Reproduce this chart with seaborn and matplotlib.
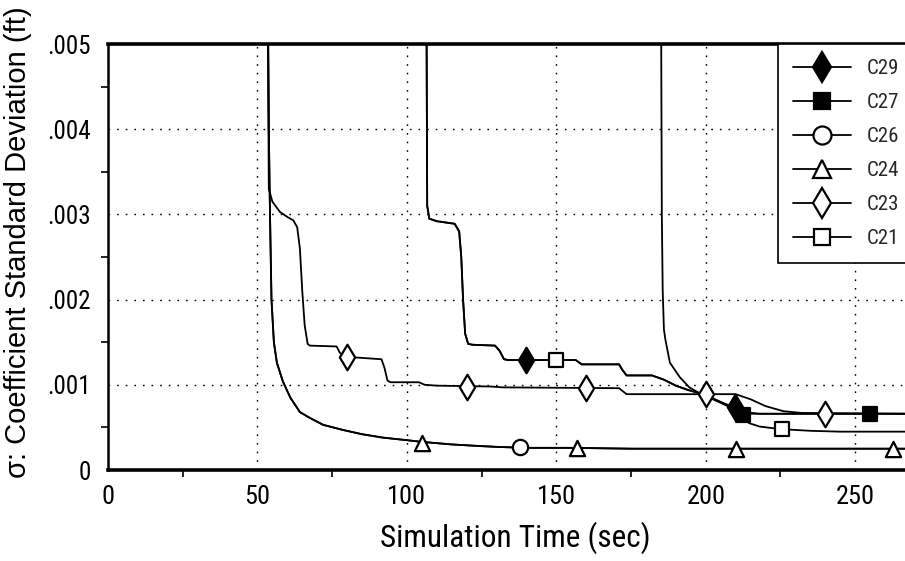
import numpy as np
import pandas as pd
import matplotlib
matplotlib.use("Agg")
import matplotlib.pyplot as plt
from matplotlib import font_manager
from matplotlib.lines import Line2D
from matplotlib.ticker import FixedLocator
import seaborn as sns

# ---------------- data ----------------
# lowest curve (C24 / C26 share it)
t_c24 = [53.4, 53.8, 54.2, 54.7, 55.5, 56.5, 58.5, 61.0, 64.2, 67.6, 72.0, 78.6, 85.0,
         92.0, 100.0, 105.0, 115.0, 125.0, 131.0, 140.0, 155.0, 175.0, 200.0, 230.0, 267.0]
v_c24 = [0.0060, 0.0040, 0.0030, 0.0020, 0.00150, 0.00126, 0.00104, 0.00085, 0.00068,
         0.00061, 0.00053, 0.00047, 0.00042, 0.00038, 0.00035, 0.00033, 0.00030, 0.00028,
         0.00027, 0.00026, 0.00026, 0.00025, 0.00025, 0.00025, 0.00025]
t_c26 = list(t_c24)
v_c26 = list(v_c24)

# middle curve with steps (C23)
t_c23 = [53.4, 53.8, 55.0, 57.5, 60.0, 62.0, 63.3, 64.2, 65.0, 65.8, 66.8, 67.5, 76.5,
         77.5, 79.0, 91.5, 92.5, 93.5, 94.5, 104.0, 106.0, 110.0, 128.0, 132.0, 171.0,
         173.5, 210.0, 215.0, 220.0, 226.0, 232.0, 267.0]
v_c23 = [0.0060, 0.0033, 0.00315, 0.00303, 0.00297, 0.00293, 0.00285, 0.0026, 0.0021,
         0.0017, 0.00148, 0.00146, 0.00145, 0.00138, 0.00133, 0.00130, 0.00120, 0.00105,
         0.00103, 0.00103, 0.00100, 0.00099, 0.00098, 0.00097, 0.00096, 0.00089, 0.00089,
         0.00083, 0.00075, 0.00069, 0.00067, 0.00066]

# upper curve starting ~106 s (C29 and C21 share it up to ~198 s)
t_c29 = [106.5, 106.8, 107.5, 110.0, 116.0, 117.5, 118.2, 118.8, 119.5, 120.5, 122.0,
         129.5, 131.0, 132.5, 134.0, 156.5, 158.5, 171.0, 172.0, 173.5, 182.0, 186.0,
         190.0, 194.0, 198.0, 203.0, 207.0, 210.0, 213.0, 218.0, 267.0]
v_c29 = [0.0060, 0.0031, 0.00295, 0.00292, 0.00289, 0.00280, 0.0025, 0.0020, 0.0016,
         0.00148, 0.00147, 0.00146, 0.00140, 0.00130, 0.00129, 0.00129, 0.00124, 0.00124,
         0.00118, 0.00111, 0.00111, 0.00106, 0.00099, 0.00094, 0.00090, 0.00083, 0.00077,
         0.00073, 0.00068, 0.00066, 0.00066]
t_c21 = [106.5, 106.8, 107.5, 110.0, 116.0, 117.5, 118.2, 118.8, 119.5, 120.5, 122.0,
         129.5, 131.0, 132.5, 134.0, 156.5, 158.5, 171.0, 172.0, 173.5, 182.0, 186.0,
         190.0, 194.0, 198.0, 203.0, 208.0, 212.0, 214.5, 218.0, 225.0, 235.0, 245.0, 267.0]
v_c21 = [0.0060, 0.0031, 0.00295, 0.00292, 0.00289, 0.00280, 0.0025, 0.0020, 0.0016,
         0.00148, 0.00147, 0.00146, 0.00140, 0.00130, 0.00129, 0.00129, 0.00124, 0.00124,
         0.00118, 0.00111, 0.00111, 0.00106, 0.00099, 0.00094, 0.00090, 0.00083, 0.00074,
         0.00064, 0.00055, 0.00051, 0.00048, 0.00046, 0.00045, 0.00045]

# late curve starting ~185 s (C27)
t_c27 = [185.0, 185.3, 185.6, 186.0, 186.5, 188.0, 191.3, 194.5, 198.0, 203.0, 208.0,
         212.0, 216.0, 267.0]
v_c27 = [0.0060, 0.0030, 0.0021, 0.00165, 0.00153, 0.00126, 0.00109, 0.00097, 0.00090,
         0.00082, 0.00074, 0.00066, 0.00066, 0.00066]

# marker positions
mk_t_c29 = [140.0, 209.7]
mk_v_c29 = [0.00129, 0.00074]
mk_t_c27 = [212.4, 255.0]
mk_v_c27 = [0.00065, 0.00066]
mk_t_c26 = [138.0]
mk_v_c26 = [0.00027]
mk_t_c24 = [105.0, 157.0, 210.0, 262.5]
mk_v_c24 = [0.00032, 0.00026, 0.00025, 0.00025]
mk_t_c23 = [80.0, 120.0, 160.0, 200.0, 240.0]
mk_v_c23 = [0.00133, 0.00098, 0.00096, 0.00089, 0.00066]
mk_t_c21 = [150.0, 225.4]
mk_v_c21 = [0.00129, 0.00048]

series_names = ["C29", "C27", "C26", "C24", "C23", "C21"]
x_ticks = [0, 50, 100, 150, 200, 250]
x_tick_labels = ["0", "50", "100", "150", "200", "250"]
y_ticks = [0.0, 0.001, 0.002, 0.003, 0.004, 0.005]
y_tick_labels = ["0", ".001", ".002", ".003", ".004", ".005"]
x_label = "Simulation Time (sec)"
y_label = "σ: Coefficient Standard Deviation (ft)"

# ---------------- styling ----------------
sns.set_theme(style="white")
avail = {f.name for f in font_manager.fontManager.ttflist}
narrow = "Liberation Sans"
for cand in ["Liberation Sans Narrow", "Roboto Condensed", "Open Sans Condensed",
             "DejaVu Sans Condensed"]:
    if cand in avail:
        narrow = cand
        break
plt.rcParams["font.family"] = [narrow, "DejaVu Sans"]

styles = {
    "C29": dict(marker="d", face="black", ms=13),
    "C27": dict(marker="s", face="black", ms=10),
    "C26": dict(marker="o", face="white", ms=11),
    "C24": dict(marker="^", face="white", ms=11),
    "C23": dict(marker="d", face="white", ms=13),
    "C21": dict(marker="s", face="white", ms=10),
}
curves = {
    "C29": (t_c29, v_c29, mk_t_c29, mk_v_c29),
    "C27": (t_c27, v_c27, mk_t_c27, mk_v_c27),
    "C26": (t_c26, v_c26, mk_t_c26, mk_v_c26),
    "C24": (t_c24, v_c24, mk_t_c24, mk_v_c24),
    "C23": (t_c23, v_c23, mk_t_c23, mk_v_c23),
    "C21": (t_c21, v_c21, mk_t_c21, mk_v_c21),
}

fig = plt.figure(figsize=(9.05, 5.61), dpi=100)
W, H = 905, 561
ax = fig.add_axes([108 / W, (H - 470) / H, (906 - 108) / W, (470 - 44) / H])

for name in series_names:
    t, v, mt, mv = curves[name]
    df = pd.DataFrame({"t": t, "v": v})
    sns.lineplot(data=df, x="t", y="v", ax=ax, color="black", linewidth=1.3,
                 estimator=None, sort=False, legend=False, zorder=3)
for name in series_names:
    t, v, mt, mv = curves[name]
    st = styles[name]
    mdf = pd.DataFrame({"t": mt, "v": mv})
    sns.scatterplot(data=mdf, x="t", y="v", ax=ax, marker=st["marker"],
                    s=st["ms"] ** 2, color=st["face"], edgecolor="black",
                    linewidth=1.6, legend=False, zorder=5, clip_on=False)

ax.set_xlim(0, 267)
ax.set_ylim(0, 0.005)
ax.set_xticks(x_ticks)
ax.set_xticklabels(x_tick_labels)
ax.set_yticks(y_ticks)
ax.set_yticklabels(y_tick_labels)
ax.xaxis.set_minor_locator(FixedLocator([25, 75, 125, 175, 225]))
ax.yaxis.set_minor_locator(FixedLocator([0.0005, 0.0015, 0.0025, 0.0035, 0.0045]))
ax.tick_params(axis="x", which="major", length=0, pad=11, labelsize=19, colors="black")
ax.tick_params(axis="y", which="major", length=0, pad=12, labelsize=18, colors="black")
ax.tick_params(axis="both", which="minor", length=5, width=1.2, direction="out",
               color="black", bottom=True, left=True)
ax.set_xlabel(x_label, fontsize=22.5, labelpad=9, color="black", x=0.51)
ax.set_ylabel("")
fig.text(18 / W, 1 - 242 / H, y_label, rotation=90, ha="center", va="center",
         fontsize=21, family=["Liberation Sans", "DejaVu Sans"], color="black")

ax.grid(True, which="major", color="black", linestyle=(0, (1.2, 5)), linewidth=1.0)
for side in ["top", "bottom"]:
    ax.spines[side].set_linewidth(2.6)
    ax.spines[side].set_color("black")
ax.spines["left"].set_linewidth(1.8)
ax.spines["left"].set_color("black")
ax.spines["right"].set_visible(False)

handles = []
for name in series_names:
    st = styles[name]
    handles.append(Line2D([0], [0], color="black", linewidth=1.3, marker=st["marker"],
                          markersize=st["ms"] + 2, markerfacecolor=st["face"],
                          markeredgecolor="black", markeredgewidth=1.6))
leg = ax.legend(handles, series_names, loc="upper left",
                bbox_to_anchor=((778 - 108) / (906 - 108), 1.0), borderaxespad=0,
                frameon=True, fancybox=False, framealpha=1, edgecolor="black",
                fontsize=15, handlelength=2.8, handletextpad=0.75, borderpad=0.72,
                labelspacing=0.72)
leg.get_frame().set_linewidth(1.2)
leg.set_zorder(10)

fig.savefig("out.png", dpi=100)
